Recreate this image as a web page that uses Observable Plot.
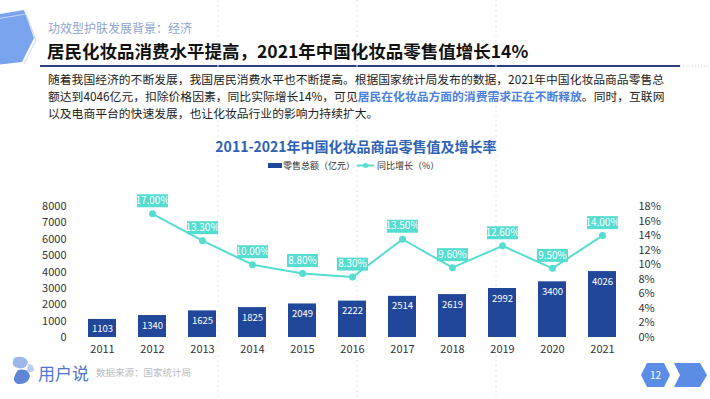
<!DOCTYPE html>
<html><head><meta charset="utf-8">
<script src="https://cdn.jsdelivr.net/npm/d3@7"></script>
<script src="https://cdn.jsdelivr.net/npm/@observablehq/plot@0.6"></script>
<style>
body{margin:0;width:710px;height:399px;overflow:hidden;background:#fff;font-family:"Noto Sans CJK SC","Noto Sans",sans-serif;position:relative}
.abs{position:absolute;white-space:nowrap}
#chart{position:absolute;left:0;top:180px}
</style></head><body>
<svg class="abs" style="left:0;top:0" width="710" height="399">
  <polygon points="-12,16 24,10 34,38 22,62 -12,66" fill="#7aa3ee"/>
  <polyline points="-10,20 26,14 36,40 24,64" fill="none" stroke="#c9d6f3" stroke-width="1"/>
  <line x1="40" y1="66" x2="680" y2="66" stroke="#2c3f7c" stroke-width="2"/>
  <line x1="680" y1="66" x2="710" y2="66" stroke="#ccc" stroke-width="1" stroke-dasharray="1,2"/>
  <g stroke="#e6e6e6" stroke-width="1" stroke-dasharray="2,3">
    <line x1="218" y1="0" x2="218" y2="399"/>
    <line x1="357" y1="0" x2="357" y2="399"/>
    <line x1="496" y1="0" x2="496" y2="399"/>
  </g>
  <!-- footer logo -->
  <path d="M14,358 q10,-4 14,4 q-2,8 -10,6 q-8,-2 -4,-10z" fill="#9db6e8"/>
  <path d="M18,370 q10,-2 12,6 q-2,9 -12,8 q-8,-3 0,-14z" fill="#5f86d6"/>
  <path d="M28,364 q6,0 6,6 q-3,4 -7,1z" fill="#b9cdf2"/>
  <!-- page number -->
  <polygon points="647,363 664,363 670,375 664,387 647,387 641,375" fill="#5b8ce6"/>
  <polygon points="674,363 700,363 707,375 700,387 674,387 680,375" fill="#5b8ce6"/>
  <text x="655.5" y="379" fill="#fff" font-size="10" text-anchor="middle" font-family="Noto Sans CJK SC">12</text>
  <!-- legend -->
  <rect x="268" y="163" width="14" height="5" fill="#21479b"/>
  <line x1="357" y1="165.5" x2="374" y2="165.5" stroke="#54ddd0" stroke-width="2"/>
  <circle cx="365.5" cy="165.5" r="2.5" fill="#54ddd0"/>
</svg>
<div class="abs" style="left:48px;top:19px;font-size:12px;color:#8ea3cf">功效型护肤发展背景：经济</div>
<div class="abs" style="left:47px;top:38px;font-size:17.5px;font-weight:bold;color:#111">居民化妆品消费水平提高，2021年中国化妆品零售值增长14%</div>
<div class="abs" style="left:48px;top:70px;font-size:11.8px;line-height:17px;color:#222">
<div>随着我国经济的不断发展，我国居民消费水平也不断提高。根据国家统计局发布的数据，2021年中国化妆品商品零售总</div>
<div>额达到4046亿元，扣除价格因素，同比实际增长14%，可见<span style="color:#4a7fe0;font-weight:bold">居民在化妆品方面的消费需求正在不断释放</span>。同时，互联网</div>
<div>以及电商平台的快速发展，也让化妆品行业的影响力持续扩大。</div>
</div>
<div class="abs" style="left:0;width:712px;text-align:center;top:136px;font-size:14px;font-weight:bold;color:#2d62b5">2011-2021年中国化妆品商品零售值及增长率</div>
<div class="abs" style="left:283px;top:159px;font-size:9px;color:#333">零售总额（亿元）</div>
<div class="abs" style="left:377px;top:159px;font-size:9px;color:#333">同比增长（%）</div>
<div class="abs" style="left:38px;top:360px;font-size:17px;color:#4f77cf">用户说</div>
<div class="abs" style="left:96px;top:365px;font-size:9.5px;color:#bbb">数据来源：国家统计局</div>
<div id="chart"></div>
<script>
const years = ["2011","2012","2013","2014","2015","2016","2017","2018","2019","2020","2021"];
const sales = [1103,1340,1625,1825,2049,2222,2514,2619,2992,3400,4026];
const growthYears = ["2012","2013","2014","2015","2016","2017","2018","2019","2020","2021"];
const growth = [17.0,13.3,10.0,8.8,8.3,13.5,9.6,12.6,9.5,14.0];
const leftTicks = [0,1000,2000,3000,4000,5000,6000,7000,8000];
const rightTicks = [0,2,4,6,8,10,12,14,16,18];

const yMax = 8000, pMax = 18;
const toY = p => p * yMax / pMax;
const barData = years.map((y,i)=>({year:y, value:sales[i]}));
const lineData = growthYears.map((y,i)=>({year:y, g:growth[i], v:toY(growth[i])}));
const boxSymbol = {draw(ctx){ ctx.rect(-15.5,-6.5,31,13); }};
const teal = "#54ddd0";

const chart = Plot.plot({
  width:710, height:182,
  marginTop:26, marginBottom:25, marginLeft:68, marginRight:74,
  style:{fontFamily:"'Noto Sans CJK SC','Noto Sans',sans-serif", fontSize:"11px", color:"#333", background:"transparent"},
  x:{type:"band", domain:years, paddingInner:0.44, paddingOuter:0.377, axis:null, label:null},
  y:{domain:[0,yMax], axis:null, label:null},
  marks:[
    Plot.barY(barData,{x:"year", y:"value", fill:"#21479b"}),
    Plot.text(barData,{x:"year", y:"value", text:d=>String(d.value), fill:"#fff", fontSize:9.5, dy:10}),
    Plot.line(lineData,{x:"year", y:"v", stroke:teal, strokeWidth:2}),
    Plot.dot(lineData,{x:"year", y:"v", r:3.5, fill:teal}),
    Plot.dot(lineData,{x:"year", y:"v", symbol:boxSymbol, fill:teal, dy:-13, r:5}),
    Plot.text(lineData,{x:"year", y:"v", text:d=>d.g.toFixed(2)+"%", fill:"#fff", fontSize:10, dy:-13}),
    Plot.axisX({tickSize:0, tickPadding:8, fontSize:11, color:"#333", label:null}),
    Plot.axisY(leftTicks,{anchor:"left", tickSize:0, tickPadding:2, tickFormat:d=>String(d), fontSize:11, color:"#333", label:null}),
    Plot.axisY(rightTicks.map(toY),{anchor:"right", tickSize:0, tickPadding:2, tickFormat:d=>Math.round(d*pMax/yMax)+"%", fontSize:11, color:"#333", label:null})
  ]
});
document.getElementById("chart").appendChild(chart);
</script>
</body></html>
